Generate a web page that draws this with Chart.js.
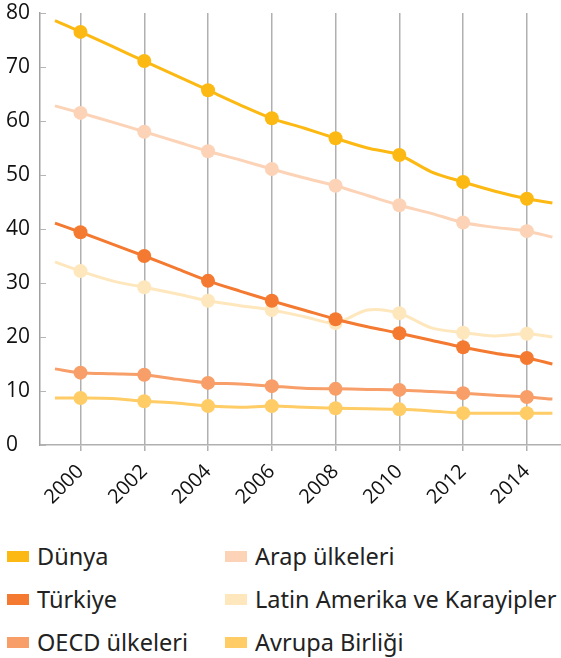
<!DOCTYPE html>
<html>
<head>
<meta charset="utf-8">
<script src="https://cdn.jsdelivr.net/npm/chart.js@4"></script>
<style>
  body { margin: 0; background: #fff; }
  #wrap { position: relative; width: 561px; height: 658px; }
  #legend {
    position: absolute; left: 7px; top: 542px;
    display: grid; grid-template-columns: 218px 336px; row-gap: 15px;
    font-family: "Noto Sans", sans-serif; font-size: 23.5px; color: #222;
  }
  .item { display: flex; align-items: center; height: 28px; white-space: nowrap; }
  .box { width: 22px; height: 11px; margin-right: 8px; }
</style>
</head>
<body>
<div id="wrap">
  <canvas id="chart" width="561" height="525"></canvas>
  <div id="legend"></div>
</div>
<script>
// years (first/last entries are where the lines start and stop)
const years = [1999.2, 2000, 2001, 2002, 2003, 2004, 2005, 2006, 2007, 2008, 2009, 2010, 2011, 2012, 2013, 2014, 2014.8]
const xTicks = [2000, 2002, 2004, 2006, 2008, 2010, 2012, 2014]

const dunya   = [78.6, 76.5, 73.8, 71.1, 68.4, 65.7, 63.0, 60.5, 58.7, 56.8, 55.0, 53.7, 50.6, 48.7, 47.0, 45.6, 44.8]
const arap    = [62.8, 61.5, 59.8, 58.0, 56.2, 54.4, 52.8, 51.1, 49.5, 48.0, 46.2, 44.4, 42.9, 41.2, 40.3, 39.6, 38.5]
const turkiye = [41.1, 39.4, 37.2, 35.0, 32.7, 30.4, 28.5, 26.7, 25.0, 23.3, 21.9, 20.7, 19.4, 18.1, 17.0, 16.1, 15.0]
const latin   = [33.9, 32.2, 30.4, 29.2, 28.0, 26.7, 25.8, 25.0, 23.8, 22.6, 25.0, 24.4, 21.7, 20.8, 20.2, 20.6, 20.0]
const oecd    = [14.1, 13.4, 13.2, 13.0, 12.2, 11.5, 11.3, 10.9, 10.5, 10.4, 10.3, 10.2, 9.9, 9.6, 9.2, 8.9, 8.5]
const ab      = [8.7, 8.7, 8.6, 8.1, 7.8, 7.2, 7.0, 7.2, 7.0, 6.8, 6.7, 6.6, 6.3, 5.9, 5.9, 5.9, 5.9]

const series = [
  { label: 'Dünya', data: dunya, color: '#fdb913' },
  { label: 'Arap ülkeleri', data: arap, color: '#fcd3b6' },
  { label: 'Türkiye', data: turkiye, color: '#f37a30' },
  { label: 'Latin Amerika ve Karayipler', data: latin, color: '#ffe7bd' },
  { label: 'OECD ülkeleri', data: oecd, color: '#f89e68' },
  { label: 'Avrupa Birliği', data: ab, color: '#ffcc66' }
]

// small inward tick marks on the y axis
const yTickMarks = {
  id: 'yTickMarks',
  beforeDatasetsDraw(chart) {
    const y = chart.scales.y
    const ctx = chart.ctx
    ctx.save()
    ctx.strokeStyle = '#b5b5b5'
    ctx.lineWidth = 1
    y.ticks.forEach(t => {
      const py = Math.round(y.getPixelForValue(t.value)) + 0.5
      ctx.beginPath()
      ctx.moveTo(y.right, py)
      ctx.lineTo(y.right + 6, py)
      ctx.stroke()
    })
    ctx.restore()
  }
}

const chart = new Chart(document.getElementById('chart'), {
  type: 'line',
  data: {
    datasets: series.map(s => ({
      label: s.label,
      data: years.map((yr, i) => ({ x: yr, y: s.data[i] })),
      borderColor: s.color,
      backgroundColor: s.color,
      borderWidth: 3,
      tension: 0.3,
      pointRadius: ctx => (xTicks.includes(ctx.raw.x) ? 7 : 0),
      pointHoverRadius: 7,
      pointBorderWidth: 0
    }))
  },
  options: {
    responsive: false,
    animation: false,
    layout: { padding: { top: 0, left: 6, right: 0, bottom: 0 } },
    plugins: { legend: { display: false }, tooltip: { enabled: false } },
    scales: {
      x: {
        type: 'linear',
        min: 1998.73,
        max: 2015.07,
        afterBuildTicks: scale => { scale.ticks = xTicks.map(v => ({ value: v })) },
        afterFit: scale => { scale.height = 80 },
        grid: { color: '#b0b0b0', lineWidth: 1.5, tickLength: 6 },
        border: { color: '#b0b0b0', width: 1.5 },
        ticks: {
          minRotation: 45, maxRotation: 45, padding: 9,
          color: '#111',
          font: { family: 'Open Sans', size: 20 },
          callback: v => String(v)
        }
      },
      y: {
        min: 0,
        max: 80,
        afterFit: scale => {
          scale.width = 34
          scale.paddingTop = 13
          scale.paddingBottom = 0
        },
        grid: { display: false },
        border: { color: '#a0a0a0', width: 1.5 },
        ticks: {
          stepSize: 10, crossAlign: 'far', padding: 4,
          color: '#111',
          font: { family: 'Open Sans', size: 21 }
        }
      }
    }
  },
  plugins: [yTickMarks]
})

// two-column legend below the chart
const legend = document.getElementById('legend')
series.forEach(s => {
  const item = document.createElement('div')
  item.className = 'item'
  item.innerHTML = '<span class="box" style="background:' + s.color + '"></span><span>' + s.label + '</span>'
  legend.appendChild(item)
})
</script>
</body>
</html>
